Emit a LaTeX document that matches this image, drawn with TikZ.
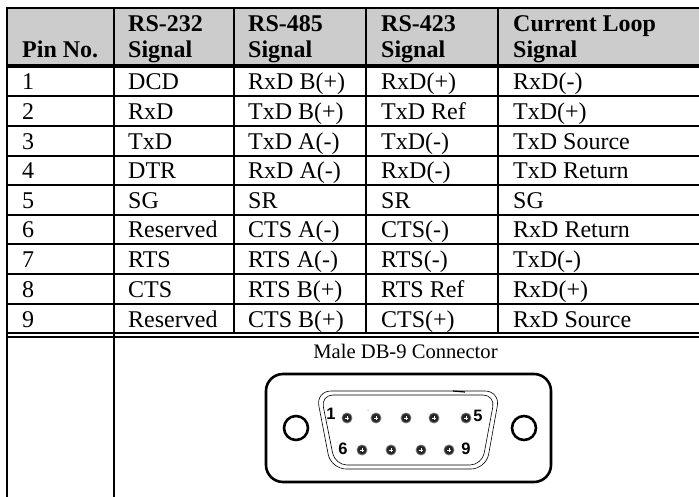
\documentclass[tikz,border=0pt]{standalone}
\usepackage{fontspec}
\setmainfont{Liberation Serif}
\newfontfamily\labelfont{Liberation Sans}
\usepackage{tikz}
\usetikzlibrary{positioning}
\definecolor{headgray}{HTML}{CCCCCC}
\tikzset{
  cell/.style={anchor=base west,inner sep=0pt,font=\fontsize{24}{28}\selectfont},
  head/.style={cell,font=\fontsize{24}{28}\selectfont\bfseries},
  caption/.style={anchor=base,inner sep=0pt,font=\fontsize{20.6}{24}\selectfont},
  pinlabel/.style={anchor=base,inner sep=0pt,font=\fontsize{16.5}{18}\labelfont\bfseries},
  grid/.style={line width=1.8pt},
  dbpin/.style={circle,fill=black!85,draw=black!55,line width=.8pt,minimum size=10pt,inner sep=0pt,
    path picture={\draw[white,line width=.6pt] (-2,0) -- (2,0) (0,-2) -- (0,2);}},
  shell/.style={line width=.6pt}
}
\begin{document}
\begin{tikzpicture}[x=1pt,y=-1pt]
\useasboundingbox (0,0) rectangle (699,497);
\fill[white] (0,0) rectangle (699,497);
\fill[headgray] (7,8) rectangle (699,65);
% table rules
\draw[line width=2.4pt] (6,8) -- (699,8);
\draw[line width=3.6pt] (6,66) -- (699,66);
\draw[grid] (6,96) -- (699,96);
\draw[grid] (6,126) -- (699,126);
\draw[grid] (6,156) -- (699,156);
\draw[grid] (6,185) -- (699,185);
\draw[grid] (6,215) -- (699,215);
\draw[grid] (6,244) -- (699,244);
\draw[grid] (6,274) -- (699,274);
\draw[grid] (6,304) -- (699,304);
\draw[grid] (6,333) -- (699,333);
\draw[grid] (6,337) -- (699,337);
\draw[grid] (7,8) -- (7,497);
\draw[grid] (114,8) -- (114,497);
\draw[grid] (234,8) -- (234,333);
\draw[grid] (366,8) -- (366,333);
\draw[grid] (498,8) -- (498,333);
% header
\node[head] (head_pin) at (22,58) {Pin No.};
\node[head] (head_a) at (128,32) {RS-232};
\node[head] (head_a_sig) at (128,58) {Signal};
\node[head] (head_b) at (248,32) {RS-485};
\node[head] (head_b_sig) at (248,58) {Signal};
\node[head] (head_c) at (381,32) {RS-423};
\node[head] (head_c_sig) at (381,58) {Signal};
\node[head] (head_d) at (513,32) {Current Loop};
\node[head] (head_d_sig) at (513,58) {Signal};
% rows
\node[cell] (row_1_pin) at (22,90) {1};
\node[cell] (row_1_a) at (128,90) {DCD};
\node[cell] (row_1_b) at (248,90) {RxD B(+)};
\node[cell] (row_1_c) at (381,90) {RxD(+)};
\node[cell] (row_1_d) at (513,90) {RxD(-)};
\node[cell] (row_2_pin) at (22,120) {2};
\node[cell] (row_2_a) at (128,120) {RxD};
\node[cell] (row_2_b) at (248,120) {TxD B(+)};
\node[cell] (row_2_c) at (381,120) {TxD Ref};
\node[cell] (row_2_d) at (513,120) {TxD(+)};
\node[cell] (row_3_pin) at (22,150) {3};
\node[cell] (row_3_a) at (128,150) {TxD};
\node[cell] (row_3_b) at (248,150) {TxD A(-)};
\node[cell] (row_3_c) at (381,150) {TxD(-)};
\node[cell] (row_3_d) at (513,150) {TxD Source};
\node[cell] (row_4_pin) at (22,179) {4};
\node[cell] (row_4_a) at (128,179) {DTR};
\node[cell] (row_4_b) at (248,179) {RxD A(-)};
\node[cell] (row_4_c) at (381,179) {RxD(-)};
\node[cell] (row_4_d) at (513,179) {TxD Return};
\node[cell] (row_5_pin) at (22,209) {5};
\node[cell] (row_5_a) at (128,209) {SG};
\node[cell] (row_5_b) at (248,209) {SR};
\node[cell] (row_5_c) at (381,209) {SR};
\node[cell] (row_5_d) at (513,209) {SG};
\node[cell] (row_6_pin) at (22,238) {6};
\node[cell] (row_6_a) at (128,238) {Reserved};
\node[cell] (row_6_b) at (248,238) {CTS A(-)};
\node[cell] (row_6_c) at (381,238) {CTS(-)};
\node[cell] (row_6_d) at (513,238) {RxD Return};
\node[cell] (row_7_pin) at (22,268) {7};
\node[cell] (row_7_a) at (128,268) {RTS};
\node[cell] (row_7_b) at (248,268) {RTS A(-)};
\node[cell] (row_7_c) at (381,268) {RTS(-)};
\node[cell] (row_7_d) at (513,268) {TxD(-)};
\node[cell] (row_8_pin) at (22,298) {8};
\node[cell] (row_8_a) at (128,298) {CTS};
\node[cell] (row_8_b) at (248,298) {RTS B(+)};
\node[cell] (row_8_c) at (381,298) {RTS Ref};
\node[cell] (row_8_d) at (513,298) {RxD(+)};
\node[cell] (row_9_pin) at (22,327) {9};
\node[cell] (row_9_a) at (128,327) {Reserved};
\node[cell] (row_9_b) at (248,327) {CTS B(+)};
\node[cell] (row_9_c) at (381,327) {CTS(+)};
\node[cell] (row_9_d) at (513,327) {RxD Source};
% connector
\node[caption] (conn_title) at (405.5,358) {Male DB-9 Connector};
\draw[line width=2.6pt,rounded corners=17pt] (266,374) rectangle (551,482);
\draw[line width=2.6pt] (296,428) circle (12);
\draw[line width=2.6pt] (524,428) circle (12);
\draw[shell,rounded corners=15pt] (316,391) -- (500,391) -- (486,469) -- (331,469) -- cycle;
\draw[shell,rounded corners=12pt] (321,395) -- (495,395) -- (482,465) -- (335,465) -- cycle;
\draw[line width=1.2pt] (453,391) -- (465,392);
\fill (368,410) circle (.4);
\node[dbpin] (pin_1) at (347,418) {};
\node[dbpin] (pin_2) at (376,418) {};
\node[dbpin] (pin_3) at (406,418) {};
\node[dbpin] (pin_4) at (434,418) {};
\node[dbpin] (pin_5) at (466,418) {};
\node[dbpin] (pin_6) at (362,450) {};
\node[dbpin] (pin_7) at (391,450) {};
\node[dbpin] (pin_8) at (421,450) {};
\node[dbpin] (pin_9) at (449,450) {};
\node[pinlabel] (label_1) at (331,419) {1};
\node[pinlabel] (label_5) at (478,421) {5};
\node[pinlabel] (label_6) at (343,454) {6};
\node[pinlabel] (label_9) at (466,454) {9};
\end{tikzpicture}
\end{document}
